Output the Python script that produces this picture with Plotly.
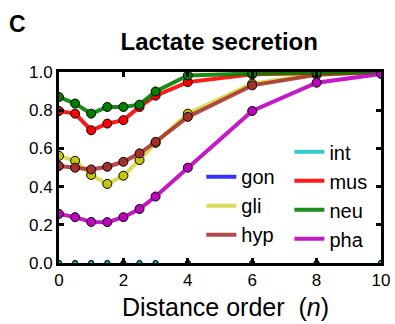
import plotly.graph_objects as go

x_vals = [0, 0.5, 1, 1.5, 2, 2.5, 3, 4, 6, 8, 10]
gon = [0, 0, 0, 0, 0, 0, 0, 0, 0, 0, 0]
int_ = [0, 0, 0, 0, 0, 0, 0, 0, 0, 0, 0]
gli = [0.561, 0.535, 0.461, 0.414, 0.457, 0.539, 0.629, 0.782, 0.939, 0.99, 1.0]
hyp = [0.508, 0.499, 0.490, 0.504, 0.530, 0.574, 0.634, 0.765, 0.930, 0.985, 1.0]
mus = [0.796, 0.782, 0.695, 0.730, 0.748, 0.817, 0.876, 0.947, 0.988, 0.996, 1.0]
neu = [0.869, 0.835, 0.782, 0.817, 0.817, 0.829, 0.898, 0.982, 0.992, 0.997, 1.0]
pha = [0.257, 0.240, 0.215, 0.214, 0.240, 0.283, 0.348, 0.499, 0.796, 0.944, 0.99]

series = [
    # name, values, line color, marker color, marker size, legend, line drawn
    ("gon", gon, "rgba(0,0,255,0.8)", "#0000ff", 5, "legend", False),
    ("gli", gli, "rgba(200,200,0,0.65)", "#c8c800", 9, "legend", True),
    ("hyp", hyp, "rgba(165,42,42,0.85)", "#a5302a", 9, "legend", True),
    ("int", int_, "rgba(0,191,191,0.8)", "#00bfbf", 5, "legend2", False),
    ("mus", mus, "rgba(255,0,0,0.9)", "#ff0000", 9, "legend2", True),
    ("neu", neu, "rgba(0,128,0,0.9)", "#008000", 9, "legend2", True),
    ("pha", pha, "rgba(191,0,191,0.9)", "#bf00bf", 9, "legend2", True),
]

FONT = "Arial, Liberation Sans, Helvetica, sans-serif"

fig = go.Figure()
for name, vals, lc, mc, ms, lg, drawn in series:
    if drawn:
        fig.add_trace(go.Scatter(
            x=x_vals, y=vals, mode="lines", name=name,
            line=dict(color=lc, width=4), legend=lg, showlegend=True,
        ))
    else:
        # line lies on the x axis (hidden under the spine); legend entry only
        fig.add_trace(go.Scatter(
            x=[None], y=[None], mode="lines", name=name,
            line=dict(color=lc, width=4), legend=lg, showlegend=True,
        ))
    fig.add_trace(go.Scatter(
        x=x_vals, y=vals, mode="markers", name=name,
        marker=dict(color=mc, size=ms, line=dict(color="black", width=1)),
        showlegend=False, legend=lg,
    ))

fig.update_layout(
    template="none",
    width=395, height=324,
    margin=dict(l=59, r=14, t=72, b=61, pad=0),
    paper_bgcolor="white", plot_bgcolor="white",
    font=dict(family=FONT, color="black", size=17),
    title=dict(text="<b>Lactate secretion</b>", x=0.555, xanchor="center",
               y=0.873, yanchor="middle", font=dict(size=24)),
    legend=dict(x=0.442, y=0.554, xanchor="left", yanchor="top",
                bgcolor="rgba(0,0,0,0)", font=dict(size=20),
                tracegroupgap=0, itemwidth=30, borderwidth=0),
    legend2=dict(x=0.7155, y=0.684, xanchor="left", yanchor="top",
                 bgcolor="rgba(0,0,0,0)", font=dict(size=20),
                 tracegroupgap=0, itemwidth=30, borderwidth=0),
)
fig.add_annotation(text="<b>C</b>", x=-0.16, y=1.25, xref="paper", yref="paper",
                   xanchor="left", yanchor="middle", showarrow=False,
                   font=dict(size=23))
fig.add_annotation(text="Distance order  (<i>n</i>)", x=0.5, y=0, xref="paper", yref="paper",
                   xanchor="center", yanchor="middle", xshift=5, yshift=-44,
                   showarrow=False, font=dict(size=25))

fig.update_xaxes(range=[0, 10], tickvals=[0, 2, 4, 6, 8, 10], automargin=False,
                 ticks="inside", ticklen=5, tickwidth=3, tickcolor="black",
                 showline=True, linewidth=3, linecolor="black", mirror="ticks",
                 showgrid=False, zeroline=False)
fig.update_yaxes(range=[0, 1], tickvals=[0, 0.2, 0.4, 0.6, 0.8, 1.0], tickformat=".1f",
                 automargin=False,
                 ticks="inside", ticklen=5, tickwidth=3, tickcolor="black",
                 showline=True, linewidth=3, linecolor="black", mirror="ticks",
                 showgrid=False, zeroline=False)

fig.write_html("out.html", config={"displayModeBar": False},
               post_script="document.body.style.margin='0';document.body.style.padding='0';")
